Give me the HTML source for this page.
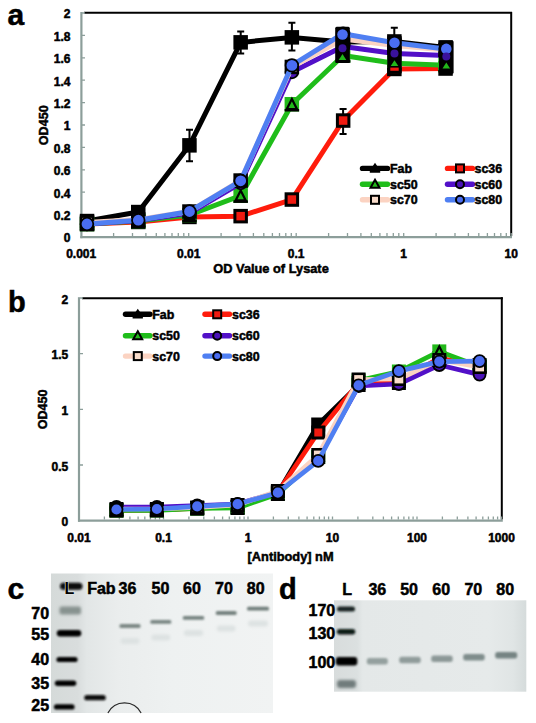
<!DOCTYPE html><html><head><meta charset="utf-8"><title>Figure</title><style>html,body{margin:0;padding:0;background:#fff;width:536px;height:723px;overflow:hidden}svg{display:block}.t{font-family:"Liberation Sans",sans-serif;font-weight:bold;stroke:#000;stroke-width:0.5px}</style></head><body>
<svg width="536" height="723" viewBox="0 0 536 723">
<rect width="536" height="723" fill="#fff"/>
<defs>
<linearGradient id="gc" gradientUnits="userSpaceOnUse" x1="51" y1="0" x2="273" y2="0"><stop offset="0" stop-color="#d5dad9"/><stop offset="0.12" stop-color="#d9dddd"/><stop offset="0.16" stop-color="#e2e6e6"/><stop offset="0.3" stop-color="#eaeded"/><stop offset="0.55" stop-color="#eef1f1"/><stop offset="1" stop-color="#f1f3f3"/></linearGradient>
<linearGradient id="gd" gradientUnits="userSpaceOnUse" x1="334" y1="0" x2="526.5" y2="0"><stop offset="0" stop-color="#d8dcdc"/><stop offset="0.12" stop-color="#dbe0e0"/><stop offset="0.15" stop-color="#e4e8e8"/><stop offset="0.8" stop-color="#e6eaea"/><stop offset="0.93" stop-color="#e0e5e5"/><stop offset="1" stop-color="#d5dbdb"/></linearGradient>
<filter id="blur1" filterUnits="userSpaceOnUse" x="0" y="0" width="536" height="723"><feGaussianBlur stdDeviation="0.9"/></filter>
<filter id="blur2" filterUnits="userSpaceOnUse" x="0" y="0" width="536" height="723"><feGaussianBlur stdDeviation="1.5"/></filter>
<filter id="blur3" filterUnits="userSpaceOnUse" x="0" y="0" width="536" height="723"><feGaussianBlur stdDeviation="1.2"/></filter>
</defs>
<rect x="51" y="573.5" width="222" height="139.5" fill="url(#gc)"/>
<rect x="60.0" y="582.8" width="22.5" height="7" rx="3.5" fill="#080808" opacity="1" filter="url(#blur1)"/><rect x="59.5" y="606.6" width="21.5" height="8" rx="2.0" fill="#87928f" opacity="1" filter="url(#blur2)"/><rect x="56.8" y="630.0" width="24.5" height="6.5" rx="3.2" fill="#000" opacity="1" filter="url(#blur1)"/><rect x="56.4" y="656.9" width="21.2" height="5.2" rx="2.6" fill="#050505" opacity="1" filter="url(#blur1)"/><rect x="54.8" y="680.5" width="21.5" height="5.5" rx="2.8" fill="#050505" opacity="1" filter="url(#blur1)"/><rect x="53.9" y="704.3" width="20.7" height="5.2" rx="2.6" fill="#050505" opacity="1" filter="url(#blur1)"/><rect x="84.2" y="695.1" width="21.6" height="5.2" rx="2.6" fill="#0e1111" opacity="1" filter="url(#blur1)"/><rect x="119.5" y="624.1" width="21.0" height="3.8" rx="1.5" fill="#7b8784" filter="url(#blur1)"/><rect x="120.5" y="638.0" width="19.0" height="6" rx="3" fill="#dde2e2" filter="url(#blur2)"/><rect x="150.3" y="619.9" width="21.0" height="3.8" rx="1.5" fill="#788582" filter="url(#blur1)"/><rect x="151.3" y="634.5" width="19.0" height="6" rx="3" fill="#dde2e2" filter="url(#blur2)"/><rect x="182.8" y="616.0" width="21.4" height="3.8" rx="1.5" fill="#768380" filter="url(#blur1)"/><rect x="183.8" y="630.0" width="19.4" height="6" rx="3" fill="#dde2e2" filter="url(#blur2)"/><rect x="215.8" y="611.1" width="20.8" height="3.8" rx="1.5" fill="#74817e" filter="url(#blur1)"/><rect x="216.8" y="625.5" width="18.8" height="6" rx="3" fill="#dde2e2" filter="url(#blur2)"/><rect x="247.0" y="606.7" width="22.0" height="3.8" rx="1.5" fill="#6e7c79" filter="url(#blur1)"/><rect x="248.0" y="620.5" width="20.0" height="6" rx="3" fill="#dde2e2" filter="url(#blur2)"/>
<path d="M107.9 713 A18.6 18.6 0 0 1 141.1 713" fill="none" stroke="#2a2a2a" stroke-width="1.2"/>
<text x="31.3" y="618.9" font-size="16" class="t">70</text>
<text x="31.3" y="640.1" font-size="16" class="t">55</text>
<text x="31.3" y="664.8" font-size="16" class="t">40</text>
<text x="31.3" y="689.4" font-size="16" class="t">35</text>
<text x="31.3" y="711.4" font-size="16" class="t">25</text>
<text x="64.6" y="593.6" font-size="16" class="t" style="stroke:#e2e6e5;stroke-width:1.2px;paint-order:stroke">L</text>
<text x="87.2" y="593.8" font-size="16" class="t">Fab</text>
<text x="118.6" y="593.8" font-size="16" class="t">36</text>
<text x="151.6" y="593.8" font-size="16" class="t">50</text>
<text x="183" y="593.8" font-size="16" class="t">60</text>
<text x="215" y="593.8" font-size="16" class="t">70</text>
<text x="246.8" y="593.8" font-size="16" class="t">80</text>
<rect x="334" y="600.3" width="192.3" height="91.4" fill="url(#gd)"/>
<rect x="337.0" y="606.5" width="18.0" height="5" rx="2.5" fill="#142220" opacity="1" filter="url(#blur1)"/><rect x="336.8" y="628.9" width="18.5" height="5.5" rx="2.8" fill="#0e1a18" opacity="1" filter="url(#blur1)"/><rect x="335.8" y="657.0" width="21.5" height="8.5" rx="3.0" fill="#000" opacity="1" filter="url(#blur1)"/><rect x="337.0" y="680.0" width="19.0" height="8" rx="3.0" fill="#6f7c7b" opacity="1" filter="url(#blur2)"/><rect x="366.8" y="658.0" width="21.0" height="6.5" rx="2.5" fill="#94a09f" opacity="1" filter="url(#blur3)"/><rect x="399.2" y="656.8" width="21.5" height="6.5" rx="2.5" fill="#909c9b" opacity="1" filter="url(#blur3)"/><rect x="431.2" y="655.5" width="21.5" height="6.5" rx="2.5" fill="#8c9897" opacity="1" filter="url(#blur3)"/><rect x="463.2" y="654.1" width="21.5" height="6.5" rx="2.5" fill="#7f8d8c" opacity="1" filter="url(#blur3)"/><rect x="495.2" y="652.0" width="22.0" height="6.5" rx="2.5" fill="#768483" opacity="1" filter="url(#blur3)"/>
<text x="342.2" y="595.4" font-size="16" class="t">L</text>
<text x="368.4" y="595.4" font-size="16" class="t">36</text>
<text x="400.2" y="595.4" font-size="16" class="t">50</text>
<text x="432.3" y="595.4" font-size="16" class="t">60</text>
<text x="464.4" y="595.4" font-size="16" class="t">70</text>
<text x="496.3" y="595.4" font-size="16" class="t">80</text>
<text x="335.2" y="615.6" font-size="16" text-anchor="end" class="t">170</text>
<text x="335.2" y="639.2" font-size="16" text-anchor="end" class="t">130</text>
<text x="335.2" y="668.2" font-size="16" text-anchor="end" class="t">100</text>
<line x1="84" y1="12.8" x2="512" y2="12.8" stroke="#000" stroke-width="2"/>
<line x1="511.2" y1="12" x2="511.2" y2="236" stroke="#000" stroke-width="2"/>
<line x1="81.4" y1="12" x2="81.4" y2="238.2" stroke="#8c9e9a" stroke-width="2.2"/>
<line x1="80.3" y1="237.1" x2="512" y2="237.1" stroke="#8c9e9a" stroke-width="2.2"/>
<path d="M113.6 236 V233 M132.5 236 V233 M145.9 236 V233 M156.3 236 V233 M164.9 236 V233 M172.0 236 V233 M178.3 236 V233 M183.8 236 V233 M188.7 236 V233 M221.1 236 V233 M240.0 236 V233 M253.4 236 V233 M263.8 236 V233 M272.4 236 V233 M279.5 236 V233 M285.8 236 V233 M291.3 236 V233 M296.2 236 V233 M328.6 236 V233 M347.5 236 V233 M360.9 236 V233 M371.3 236 V233 M379.9 236 V233 M387.0 236 V233 M393.3 236 V233 M398.8 236 V233 M403.7 236 V233 M436.1 236 V233 M455.0 236 V233 M468.4 236 V233 M478.8 236 V233 M487.4 236 V233 M494.5 236 V233 M500.8 236 V233 M506.3 236 V233 M511.2 236 V233 M82 214.6 H85 M82 192.2 H85 M82 169.8 H85 M82 147.4 H85 M82 125.0 H85 M82 102.6 H85 M82 80.2 H85 M82 57.8 H85 M82 35.4 H85 M82 13.0 H85" stroke="#8c9e9a" stroke-width="1.3" fill="none"/>
<text x="70.5" y="242.3" font-size="12" text-anchor="end" class="t">0</text>
<text x="70.5" y="219.9" font-size="12" text-anchor="end" class="t">0.2</text>
<text x="70.5" y="197.5" font-size="12" text-anchor="end" class="t">0.4</text>
<text x="70.5" y="175.1" font-size="12" text-anchor="end" class="t">0.6</text>
<text x="70.5" y="152.7" font-size="12" text-anchor="end" class="t">0.8</text>
<text x="70.5" y="130.3" font-size="12" text-anchor="end" class="t">1</text>
<text x="70.5" y="107.9" font-size="12" text-anchor="end" class="t">1.2</text>
<text x="70.5" y="85.5" font-size="12" text-anchor="end" class="t">1.4</text>
<text x="70.5" y="63.1" font-size="12" text-anchor="end" class="t">1.6</text>
<text x="70.5" y="40.7" font-size="12" text-anchor="end" class="t">1.8</text>
<text x="70.5" y="18.3" font-size="12" text-anchor="end" class="t">2</text>
<text x="81.2" y="257.8" font-size="12" text-anchor="middle" class="t">0.001</text>
<text x="188.7" y="257.8" font-size="12" text-anchor="middle" class="t">0.01</text>
<text x="296.2" y="257.8" font-size="12" text-anchor="middle" class="t">0.1</text>
<text x="403.7" y="257.8" font-size="12" text-anchor="middle" class="t">1</text>
<text x="511.2" y="257.8" font-size="12" text-anchor="middle" class="t">10</text>
<text x="213.3" y="272.6" font-size="12.8" class="t">OD Value of Lysate</text>
<text transform="translate(48.1 125.3) rotate(-90)" font-size="12.6" text-anchor="middle" class="t">OD450</text>
<polyline points="87.0,221.0 138.3,212.0 189.5,145.3 240.7,42.4 291.9,37.4 343.1,42.0 394.3,41.5 445.5,47.5" fill="none" stroke="#000000" stroke-width="5.0" stroke-linejoin="round" stroke-linecap="round"/>
<rect x="79.8" y="213.8" width="14.5" height="14.5" fill="#000"/>
<rect x="131.0" y="204.8" width="14.5" height="14.5" fill="#000"/>
<path d="M189.5 129.8 V161.2 M186.0 129.8 H193.0 M186.0 161.2 H193.0" stroke="#000" stroke-width="2" fill="none"/>
<rect x="182.2" y="138.1" width="14.5" height="14.5" fill="#000"/>
<path d="M240.7 31.6 V53.6 M237.2 31.6 H244.2 M237.2 53.6 H244.2" stroke="#000" stroke-width="2" fill="none"/>
<rect x="233.4" y="35.1" width="14.5" height="14.5" fill="#000"/>
<path d="M291.9 22.8 V50.4 M288.4 22.8 H295.4 M288.4 50.4 H295.4" stroke="#000" stroke-width="2" fill="none"/>
<rect x="284.6" y="30.1" width="14.5" height="14.5" fill="#000"/>
<rect x="335.9" y="34.8" width="14.5" height="14.5" fill="#000"/>
<path d="M394.3 27.7 V57.0 M390.8 27.7 H397.8 M390.8 57.0 H397.8" stroke="#000" stroke-width="2" fill="none"/>
<rect x="387.1" y="34.2" width="14.5" height="14.5" fill="#000"/>
<rect x="438.3" y="40.2" width="14.5" height="14.5" fill="#000"/>
<polyline points="87.0,224.0 138.3,222.0 189.5,217.0 240.7,216.2 291.9,199.6 343.1,120.5 394.3,69.0 445.5,68.5" fill="none" stroke="#ff1c0c" stroke-width="5.0" stroke-linejoin="round" stroke-linecap="round"/>
<rect x="81.3" y="218.2" width="11.5" height="11.5" fill="#f01a10" stroke="#000" stroke-width="3"/>
<rect x="132.5" y="216.2" width="11.5" height="11.5" fill="#f01a10" stroke="#000" stroke-width="3"/>
<rect x="183.7" y="211.2" width="11.5" height="11.5" fill="#f01a10" stroke="#000" stroke-width="3"/>
<rect x="234.9" y="210.4" width="11.5" height="11.5" fill="#f01a10" stroke="#000" stroke-width="3"/>
<rect x="286.1" y="193.8" width="11.5" height="11.5" fill="#f01a10" stroke="#000" stroke-width="3"/>
<path d="M343.1 108.9 V134.1 M339.6 108.9 H346.6 M339.6 134.1 H346.6" stroke="#000" stroke-width="2" fill="none"/>
<rect x="337.4" y="114.8" width="11.5" height="11.5" fill="#f01a10" stroke="#000" stroke-width="3"/>
<rect x="388.6" y="63.2" width="11.5" height="11.5" fill="#f01a10" stroke="#000" stroke-width="3"/>
<rect x="439.8" y="62.8" width="11.5" height="11.5" fill="#f01a10" stroke="#000" stroke-width="3"/>
<polyline points="87.0,224.0 138.3,221.0 189.5,215.0 240.7,195.7 291.9,104.2 343.1,55.5 394.3,63.2 445.5,65.3" fill="none" stroke="#1fbd1a" stroke-width="5.0" stroke-linejoin="round" stroke-linecap="round"/>
<rect x="79.8" y="216.8" width="14.5" height="14.5" fill="#22b81a"/>
<path d="M87.0 218.8 L92.1 228.8 L82.0 228.8 Z" fill="none" stroke="#000" stroke-width="2.2"/>
<rect x="79.8" y="228.8" width="14.5" height="2.5" fill="#000"/>
<rect x="131.0" y="213.8" width="14.5" height="14.5" fill="#22b81a"/>
<path d="M138.3 215.8 L143.3 225.8 L133.2 225.8 Z" fill="none" stroke="#000" stroke-width="2.2"/>
<rect x="131.0" y="225.8" width="14.5" height="2.5" fill="#000"/>
<rect x="182.2" y="207.8" width="14.5" height="14.5" fill="#22b81a"/>
<path d="M189.5 209.8 L194.5 219.8 L184.4 219.8 Z" fill="none" stroke="#000" stroke-width="2.2"/>
<rect x="182.2" y="219.8" width="14.5" height="2.5" fill="#000"/>
<rect x="233.4" y="188.4" width="14.5" height="14.5" fill="#22b81a"/>
<path d="M240.7 190.4 L245.7 200.4 L235.6 200.4 Z" fill="none" stroke="#000" stroke-width="2.2"/>
<rect x="233.4" y="200.4" width="14.5" height="2.5" fill="#000"/>
<rect x="284.6" y="97.0" width="14.5" height="14.5" fill="#22b81a"/>
<path d="M291.9 99.0 L296.9 109.0 L286.8 109.0 Z" fill="none" stroke="#000" stroke-width="2.2"/>
<rect x="284.6" y="109.0" width="14.5" height="2.5" fill="#000"/>
<rect x="335.9" y="48.2" width="14.5" height="14.5" fill="#22b81a"/>
<path d="M343.1 50.2 L348.2 60.2 L338.1 60.2 Z" fill="none" stroke="#000" stroke-width="2.2"/>
<rect x="335.9" y="60.2" width="14.5" height="2.5" fill="#000"/>
<rect x="387.1" y="56.0" width="14.5" height="14.5" fill="#22b81a"/>
<path d="M394.3 58.0 L399.4 68.0 L389.3 68.0 Z" fill="none" stroke="#000" stroke-width="2.2"/>
<rect x="387.1" y="68.0" width="14.5" height="2.5" fill="#000"/>
<rect x="438.3" y="58.0" width="14.5" height="14.5" fill="#22b81a"/>
<path d="M445.5 60.0 L450.6 70.0 L440.5 70.0 Z" fill="none" stroke="#000" stroke-width="2.2"/>
<rect x="438.3" y="70.0" width="14.5" height="2.5" fill="#000"/>
<polyline points="87.0,224.0 138.3,220.5 189.5,213.0 240.7,183.0 291.9,72.0 343.1,46.5 394.3,53.5 445.5,55.5" fill="none" stroke="#5210c8" stroke-width="5.0" stroke-linejoin="round" stroke-linecap="round"/>
<circle cx="87.0" cy="224.0" r="6.3" fill="#4a12b8" stroke="#000" stroke-width="1.8"/>
<circle cx="138.3" cy="220.5" r="6.3" fill="#4a12b8" stroke="#000" stroke-width="1.8"/>
<circle cx="189.5" cy="213.0" r="6.3" fill="#4a12b8" stroke="#000" stroke-width="1.8"/>
<circle cx="240.7" cy="183.0" r="6.3" fill="#4a12b8" stroke="#000" stroke-width="1.8"/>
<circle cx="291.9" cy="72.0" r="6.3" fill="#4a12b8" stroke="#000" stroke-width="1.8"/>
<circle cx="343.1" cy="46.5" r="6.3" fill="#4a12b8" stroke="#000" stroke-width="1.8"/>
<circle cx="394.3" cy="53.5" r="6.3" fill="#4a12b8" stroke="#000" stroke-width="1.8"/>
<circle cx="445.5" cy="55.5" r="6.3" fill="#4a12b8" stroke="#000" stroke-width="1.8"/>
<polyline points="87.0,222.5 138.3,219.5 189.5,211.5 240.7,180.5 291.9,67.0 343.1,39.0 394.3,45.5 445.5,50.0" fill="none" stroke="#fbd3c2" stroke-width="5.0" stroke-linejoin="round" stroke-linecap="round"/>
<rect x="81.1" y="216.6" width="11.9" height="11.9" fill="#f9dccb" stroke="#000" stroke-width="2.6"/>
<rect x="132.3" y="213.6" width="11.9" height="11.9" fill="#f9dccb" stroke="#000" stroke-width="2.6"/>
<rect x="183.5" y="205.6" width="11.9" height="11.9" fill="#f9dccb" stroke="#000" stroke-width="2.6"/>
<rect x="234.7" y="174.6" width="11.9" height="11.9" fill="#f9dccb" stroke="#000" stroke-width="2.6"/>
<rect x="285.9" y="61.0" width="11.9" height="11.9" fill="#f9dccb" stroke="#000" stroke-width="2.6"/>
<rect x="337.2" y="33.0" width="11.9" height="11.9" fill="#f9dccb" stroke="#000" stroke-width="2.6"/>
<rect x="388.4" y="39.5" width="11.9" height="11.9" fill="#f9dccb" stroke="#000" stroke-width="2.6"/>
<rect x="439.6" y="44.0" width="11.9" height="11.9" fill="#f9dccb" stroke="#000" stroke-width="2.6"/>
<polyline points="87.0,224.0 138.3,220.2 189.5,211.5 240.7,180.8 291.9,65.4 343.1,33.7 394.3,42.7 445.5,48.9" fill="none" stroke="#4f7ff2" stroke-width="5.0" stroke-linejoin="round" stroke-linecap="round"/>
<circle cx="87.0" cy="224.0" r="6.3" fill="#4a6df2" stroke="#000" stroke-width="1.8"/>
<circle cx="138.3" cy="220.2" r="6.3" fill="#4a6df2" stroke="#000" stroke-width="1.8"/>
<circle cx="189.5" cy="211.5" r="6.3" fill="#4a6df2" stroke="#000" stroke-width="1.8"/>
<circle cx="240.7" cy="180.8" r="6.3" fill="#4a6df2" stroke="#000" stroke-width="1.8"/>
<circle cx="291.9" cy="65.4" r="6.3" fill="#4a6df2" stroke="#000" stroke-width="1.8"/>
<circle cx="343.1" cy="33.7" r="6.3" fill="#4a6df2" stroke="#000" stroke-width="1.8"/>
<circle cx="394.3" cy="42.7" r="6.3" fill="#4a6df2" stroke="#000" stroke-width="1.8"/>
<circle cx="445.5" cy="48.9" r="6.3" fill="#4a6df2" stroke="#000" stroke-width="1.8"/>
<rect x="335.2" y="26.8" width="14.6" height="36.3" rx="1.5" fill="#000"/>
<circle cx="342.5" cy="34.5" r="5.3" fill="#4a6df2"/>
<circle cx="342.5" cy="48.2" r="4.0" fill="#3a129c"/>
<path d="M342.5 54.1 L346.3 59.9 L338.7 59.9 Z" fill="#22b81a"/>
<rect x="387.3" y="35.6" width="14.4" height="38.1" rx="1.5" fill="#000"/>
<circle cx="394.5" cy="42.7" r="5.3" fill="#4a6df2"/>
<circle cx="394.5" cy="53.5" r="4.0" fill="#3a129c"/>
<path d="M394.5 60.2 L398.3 66.0 L390.7 66.0 Z" fill="#22b81a"/>
<rect x="390.3" y="67.6" width="8.4" height="3.2" fill="#f01a10"/>
<rect x="439.0" y="40.5" width="14.6" height="33.2" rx="1.5" fill="#000"/>
<circle cx="446.3" cy="48.9" r="5.3" fill="#4a6df2"/>
<circle cx="446.3" cy="56.5" r="4.0" fill="#3a129c"/>
<path d="M446.3 62.6 L450.1 68.4 L442.5 68.4 Z" fill="#22b81a"/>
<line x1="362.5" y1="168.4" x2="387.5" y2="168.4" stroke="#000000" stroke-width="5.4" stroke-linecap="round"/>
<path d="M375.0 162.8 L380.2 170.4 L380.2 172.7 L369.8 172.7 L369.8 170.4 Z" fill="#000"/>
<text x="390" y="172.8" font-size="12.4" class="t">Fab</text>
<line x1="447.5" y1="168.4" x2="472.5" y2="168.4" stroke="#ff1c0c" stroke-width="5.4" stroke-linecap="round"/>
<rect x="456.0" y="164.4" width="8" height="8" fill="#f01a10" stroke="#000" stroke-width="2"/>
<text x="474.5" y="172.8" font-size="12.4" class="t">sc36</text>
<line x1="362.5" y1="184.3" x2="387.5" y2="184.3" stroke="#1fbd1a" stroke-width="5.4" stroke-linecap="round"/>
<path d="M375.0 179.8 L379.5 187.8 L370.5 187.8 Z" fill="#22b81a" stroke="#000" stroke-width="2"/>
<text x="390" y="188.7" font-size="12.4" class="t">sc50</text>
<line x1="447.5" y1="184.3" x2="472.5" y2="184.3" stroke="#5210c8" stroke-width="5.4" stroke-linecap="round"/>
<circle cx="460.0" cy="184.3" r="4" fill="#4a12b8" stroke="#000" stroke-width="2"/>
<text x="474.5" y="188.7" font-size="12.4" class="t">sc60</text>
<line x1="362.5" y1="199.8" x2="387.5" y2="199.8" stroke="#fbd3c2" stroke-width="5.4" stroke-linecap="round"/>
<rect x="371.0" y="195.8" width="8" height="8" fill="#f9dccb" stroke="#000" stroke-width="2"/>
<text x="390" y="204.2" font-size="12.4" class="t">sc70</text>
<line x1="447.5" y1="199.8" x2="472.5" y2="199.8" stroke="#4f7ff2" stroke-width="5.4" stroke-linecap="round"/>
<circle cx="460.0" cy="199.8" r="4" fill="#4a6df2" stroke="#000" stroke-width="2"/>
<text x="474.5" y="204.2" font-size="12.4" class="t">sc80</text>
<line x1="82" y1="298.2" x2="502.8" y2="298.2" stroke="#000" stroke-width="2"/>
<line x1="501.8" y1="297.2" x2="501.8" y2="519.5" stroke="#000" stroke-width="2"/>
<line x1="79" y1="297.2" x2="79" y2="521.7" stroke="#8c9e9a" stroke-width="2.2"/>
<line x1="78" y1="520.6" x2="502.8" y2="520.6" stroke="#8c9e9a" stroke-width="2.2"/>
<path d="M104.4 519.5 V516.5 M119.3 519.5 V516.5 M129.9 519.5 V516.5 M138.1 519.5 V516.5 M144.8 519.5 V516.5 M150.4 519.5 V516.5 M155.3 519.5 V516.5 M159.6 519.5 V516.5 M163.5 519.5 V516.5 M188.9 519.5 V516.5 M203.8 519.5 V516.5 M214.4 519.5 V516.5 M222.6 519.5 V516.5 M229.3 519.5 V516.5 M234.9 519.5 V516.5 M239.8 519.5 V516.5 M244.1 519.5 V516.5 M248.0 519.5 V516.5 M273.4 519.5 V516.5 M288.3 519.5 V516.5 M298.9 519.5 V516.5 M307.1 519.5 V516.5 M313.8 519.5 V516.5 M319.4 519.5 V516.5 M324.3 519.5 V516.5 M328.6 519.5 V516.5 M332.5 519.5 V516.5 M357.9 519.5 V516.5 M372.8 519.5 V516.5 M383.4 519.5 V516.5 M391.6 519.5 V516.5 M398.3 519.5 V516.5 M403.9 519.5 V516.5 M408.8 519.5 V516.5 M413.1 519.5 V516.5 M417.0 519.5 V516.5 M442.4 519.5 V516.5 M457.3 519.5 V516.5 M467.9 519.5 V516.5 M476.1 519.5 V516.5 M482.8 519.5 V516.5 M488.4 519.5 V516.5 M493.3 519.5 V516.5 M497.6 519.5 V516.5 M501.5 519.5 V516.5 M80 465.0 H83 M80 409.3 H83 M80 353.7 H83 M80 298.0 H83" stroke="#8c9e9a" stroke-width="1.3" fill="none"/>
<text x="68.3" y="526.2" font-size="12" text-anchor="end" class="t">0</text>
<text x="68.3" y="470.6" font-size="12" text-anchor="end" class="t">0.5</text>
<text x="68.3" y="414.9" font-size="12" text-anchor="end" class="t">1</text>
<text x="68.3" y="359.3" font-size="12" text-anchor="end" class="t">1.5</text>
<text x="68.3" y="303.6" font-size="12" text-anchor="end" class="t">2</text>
<text x="79.0" y="541.8" font-size="12" text-anchor="middle" class="t">0.01</text>
<text x="163.5" y="541.8" font-size="12" text-anchor="middle" class="t">0.1</text>
<text x="248.0" y="541.8" font-size="12" text-anchor="middle" class="t">1</text>
<text x="332.5" y="541.8" font-size="12" text-anchor="middle" class="t">10</text>
<text x="417.0" y="541.8" font-size="12" text-anchor="middle" class="t">100</text>
<text x="501.5" y="541.8" font-size="12" text-anchor="middle" class="t">1000</text>
<text x="247.6" y="560.8" font-size="12.8" class="t">[Antibody] nM</text>
<text transform="translate(47.4 409.4) rotate(-90)" font-size="12.6" text-anchor="middle" class="t">OD450</text>
<polyline points="116.5,510.0 156.9,510.0 197.2,508.0 237.6,507.0 277.9,493.0 318.2,424.5 358.6,385.0 398.9,383.0 439.3,360.0 479.6,365.0" fill="none" stroke="#000000" stroke-width="4.7" stroke-linejoin="round" stroke-linecap="round"/>
<rect x="109.5" y="503.0" width="14" height="14" fill="#000"/>
<rect x="149.9" y="503.0" width="14" height="14" fill="#000"/>
<rect x="190.2" y="501.0" width="14" height="14" fill="#000"/>
<rect x="230.6" y="500.0" width="14" height="14" fill="#000"/>
<rect x="270.9" y="486.0" width="14" height="14" fill="#000"/>
<rect x="311.2" y="417.5" width="14" height="14" fill="#000"/>
<rect x="351.6" y="378.0" width="14" height="14" fill="#000"/>
<rect x="391.9" y="376.0" width="14" height="14" fill="#000"/>
<rect x="432.3" y="353.0" width="14" height="14" fill="#000"/>
<rect x="472.6" y="358.0" width="14" height="14" fill="#000"/>
<polyline points="116.5,510.5 156.9,510.0 197.2,508.5 237.6,506.5 277.9,492.0 318.2,432.5 358.6,383.0 398.9,381.0 439.3,358.0 479.6,366.0" fill="none" stroke="#ff1c0c" stroke-width="4.7" stroke-linejoin="round" stroke-linecap="round"/>
<rect x="111.0" y="505.0" width="11" height="11" fill="#f01a10" stroke="#000" stroke-width="3"/>
<rect x="151.4" y="504.5" width="11" height="11" fill="#f01a10" stroke="#000" stroke-width="3"/>
<rect x="191.7" y="503.0" width="11" height="11" fill="#f01a10" stroke="#000" stroke-width="3"/>
<rect x="232.1" y="501.0" width="11" height="11" fill="#f01a10" stroke="#000" stroke-width="3"/>
<rect x="272.4" y="486.5" width="11" height="11" fill="#f01a10" stroke="#000" stroke-width="3"/>
<rect x="312.8" y="427.0" width="11" height="11" fill="#f01a10" stroke="#000" stroke-width="3"/>
<rect x="353.1" y="377.5" width="11" height="11" fill="#f01a10" stroke="#000" stroke-width="3"/>
<rect x="393.4" y="375.5" width="11" height="11" fill="#f01a10" stroke="#000" stroke-width="3"/>
<rect x="433.8" y="352.5" width="11" height="11" fill="#f01a10" stroke="#000" stroke-width="3"/>
<rect x="474.1" y="360.5" width="11" height="11" fill="#f01a10" stroke="#000" stroke-width="3"/>
<polyline points="116.5,510.5 156.9,510.5 197.2,508.5 237.6,508.0 277.9,494.0 318.2,457.0 358.6,380.5 398.9,371.5 439.3,351.4 479.6,366.5" fill="none" stroke="#1fbd1a" stroke-width="4.7" stroke-linejoin="round" stroke-linecap="round"/>
<rect x="109.5" y="503.5" width="14" height="14" fill="#22b81a"/>
<path d="M116.5 505.5 L121.3 515.0 L111.8 515.0 Z" fill="none" stroke="#000" stroke-width="2.2"/>
<rect x="109.5" y="515.0" width="14" height="2.5" fill="#000"/>
<rect x="149.9" y="503.5" width="14" height="14" fill="#22b81a"/>
<path d="M156.9 505.5 L161.7 515.0 L152.1 515.0 Z" fill="none" stroke="#000" stroke-width="2.2"/>
<rect x="149.9" y="515.0" width="14" height="2.5" fill="#000"/>
<rect x="190.2" y="501.5" width="14" height="14" fill="#22b81a"/>
<path d="M197.2 503.5 L202.0 513.0 L192.4 513.0 Z" fill="none" stroke="#000" stroke-width="2.2"/>
<rect x="190.2" y="513.0" width="14" height="2.5" fill="#000"/>
<rect x="230.6" y="501.0" width="14" height="14" fill="#22b81a"/>
<path d="M237.6 503.0 L242.4 512.5 L232.8 512.5 Z" fill="none" stroke="#000" stroke-width="2.2"/>
<rect x="230.6" y="512.5" width="14" height="2.5" fill="#000"/>
<rect x="270.9" y="487.0" width="14" height="14" fill="#22b81a"/>
<path d="M277.9 489.0 L282.7 498.5 L273.1 498.5 Z" fill="none" stroke="#000" stroke-width="2.2"/>
<rect x="270.9" y="498.5" width="14" height="2.5" fill="#000"/>
<rect x="311.2" y="450.0" width="14" height="14" fill="#22b81a"/>
<path d="M318.2 452.0 L323.1 461.5 L313.4 461.5 Z" fill="none" stroke="#000" stroke-width="2.2"/>
<rect x="311.2" y="461.5" width="14" height="2.5" fill="#000"/>
<rect x="351.6" y="373.5" width="14" height="14" fill="#22b81a"/>
<path d="M358.6 375.5 L363.4 385.0 L353.8 385.0 Z" fill="none" stroke="#000" stroke-width="2.2"/>
<rect x="351.6" y="385.0" width="14" height="2.5" fill="#000"/>
<rect x="391.9" y="364.5" width="14" height="14" fill="#22b81a"/>
<path d="M398.9 366.5 L403.7 376.0 L394.1 376.0 Z" fill="none" stroke="#000" stroke-width="2.2"/>
<rect x="391.9" y="376.0" width="14" height="2.5" fill="#000"/>
<rect x="432.3" y="344.4" width="14" height="14" fill="#22b81a"/>
<path d="M439.3 346.4 L444.1 355.9 L434.5 355.9 Z" fill="none" stroke="#000" stroke-width="2.2"/>
<rect x="432.3" y="355.9" width="14" height="2.5" fill="#000"/>
<rect x="472.6" y="359.5" width="14" height="14" fill="#22b81a"/>
<path d="M479.6 361.5 L484.4 371.0 L474.8 371.0 Z" fill="none" stroke="#000" stroke-width="2.2"/>
<rect x="472.6" y="371.0" width="14" height="2.5" fill="#000"/>
<polyline points="116.5,507.0 156.9,507.0 197.2,505.5 237.6,504.0 277.9,492.0 318.2,458.0 358.6,386.0 398.9,384.0 439.3,365.0 479.6,374.6" fill="none" stroke="#5210c8" stroke-width="4.7" stroke-linejoin="round" stroke-linecap="round"/>
<circle cx="116.5" cy="507.0" r="6" fill="#4a12b8" stroke="#000" stroke-width="1.8"/>
<circle cx="156.9" cy="507.0" r="6" fill="#4a12b8" stroke="#000" stroke-width="1.8"/>
<circle cx="197.2" cy="505.5" r="6" fill="#4a12b8" stroke="#000" stroke-width="1.8"/>
<circle cx="237.6" cy="504.0" r="6" fill="#4a12b8" stroke="#000" stroke-width="1.8"/>
<circle cx="277.9" cy="492.0" r="6" fill="#4a12b8" stroke="#000" stroke-width="1.8"/>
<circle cx="318.2" cy="458.0" r="6" fill="#4a12b8" stroke="#000" stroke-width="1.8"/>
<circle cx="358.6" cy="386.0" r="6" fill="#4a12b8" stroke="#000" stroke-width="1.8"/>
<circle cx="398.9" cy="384.0" r="6" fill="#4a12b8" stroke="#000" stroke-width="1.8"/>
<circle cx="439.3" cy="365.0" r="6" fill="#4a12b8" stroke="#000" stroke-width="1.8"/>
<circle cx="479.6" cy="374.6" r="6" fill="#4a12b8" stroke="#000" stroke-width="1.8"/>
<polyline points="116.5,509.0 156.9,509.0 197.2,507.5 237.6,505.0 277.9,491.0 318.2,455.0 358.6,379.5 398.9,379.0 439.3,360.0 479.6,367.0" fill="none" stroke="#fbd3c2" stroke-width="4.7" stroke-linejoin="round" stroke-linecap="round"/>
<rect x="110.8" y="503.3" width="11.4" height="11.4" fill="#f9dccb" stroke="#000" stroke-width="2.6"/>
<rect x="151.2" y="503.3" width="11.4" height="11.4" fill="#f9dccb" stroke="#000" stroke-width="2.6"/>
<rect x="191.5" y="501.8" width="11.4" height="11.4" fill="#f9dccb" stroke="#000" stroke-width="2.6"/>
<rect x="231.9" y="499.3" width="11.4" height="11.4" fill="#f9dccb" stroke="#000" stroke-width="2.6"/>
<rect x="272.2" y="485.3" width="11.4" height="11.4" fill="#f9dccb" stroke="#000" stroke-width="2.6"/>
<rect x="312.6" y="449.3" width="11.4" height="11.4" fill="#f9dccb" stroke="#000" stroke-width="2.6"/>
<rect x="352.9" y="373.8" width="11.4" height="11.4" fill="#f9dccb" stroke="#000" stroke-width="2.6"/>
<rect x="393.2" y="373.3" width="11.4" height="11.4" fill="#f9dccb" stroke="#000" stroke-width="2.6"/>
<rect x="433.6" y="354.3" width="11.4" height="11.4" fill="#f9dccb" stroke="#000" stroke-width="2.6"/>
<rect x="473.9" y="361.3" width="11.4" height="11.4" fill="#f9dccb" stroke="#000" stroke-width="2.6"/>
<polyline points="116.5,509.5 156.9,509.0 197.2,506.3 237.6,504.1 277.9,492.7 318.2,460.9 358.6,385.3 398.9,371.1 439.3,361.6 479.6,361.1" fill="none" stroke="#4f7ff2" stroke-width="4.7" stroke-linejoin="round" stroke-linecap="round"/>
<circle cx="116.5" cy="509.5" r="6" fill="#4a6df2" stroke="#000" stroke-width="1.8"/>
<circle cx="156.9" cy="509.0" r="6" fill="#4a6df2" stroke="#000" stroke-width="1.8"/>
<circle cx="197.2" cy="506.3" r="6" fill="#4a6df2" stroke="#000" stroke-width="1.8"/>
<circle cx="237.6" cy="504.1" r="6" fill="#4a6df2" stroke="#000" stroke-width="1.8"/>
<circle cx="277.9" cy="492.7" r="6" fill="#4a6df2" stroke="#000" stroke-width="1.8"/>
<circle cx="318.2" cy="460.9" r="6" fill="#4a6df2" stroke="#000" stroke-width="1.8"/>
<circle cx="358.6" cy="385.3" r="6" fill="#4a6df2" stroke="#000" stroke-width="1.8"/>
<circle cx="398.9" cy="371.1" r="6" fill="#4a6df2" stroke="#000" stroke-width="1.8"/>
<circle cx="439.3" cy="361.6" r="6" fill="#4a6df2" stroke="#000" stroke-width="1.8"/>
<circle cx="479.6" cy="361.1" r="6" fill="#4a6df2" stroke="#000" stroke-width="1.8"/>
<line x1="125.5" y1="314.3" x2="150" y2="314.3" stroke="#000000" stroke-width="5.4" stroke-linecap="round"/>
<path d="M137.8 308.7 L142.9 316.3 L142.9 318.6 L132.6 318.6 L132.6 316.3 Z" fill="#000"/>
<text x="152.3" y="318.7" font-size="12.4" class="t">Fab</text>
<line x1="205" y1="314.3" x2="229.5" y2="314.3" stroke="#ff1c0c" stroke-width="5.4" stroke-linecap="round"/>
<rect x="213.2" y="310.3" width="8" height="8" fill="#f01a10" stroke="#000" stroke-width="2"/>
<text x="232" y="318.7" font-size="12.4" class="t">sc36</text>
<line x1="125.5" y1="335.8" x2="150" y2="335.8" stroke="#1fbd1a" stroke-width="5.4" stroke-linecap="round"/>
<path d="M137.8 331.3 L142.2 339.3 L133.2 339.3 Z" fill="#22b81a" stroke="#000" stroke-width="2"/>
<text x="152.3" y="340.2" font-size="12.4" class="t">sc50</text>
<line x1="205" y1="335.8" x2="229.5" y2="335.8" stroke="#5210c8" stroke-width="5.4" stroke-linecap="round"/>
<circle cx="217.2" cy="335.8" r="4" fill="#4a12b8" stroke="#000" stroke-width="2"/>
<text x="232" y="340.2" font-size="12.4" class="t">sc60</text>
<line x1="125.5" y1="356.1" x2="150" y2="356.1" stroke="#fbd3c2" stroke-width="5.4" stroke-linecap="round"/>
<rect x="133.8" y="352.1" width="8" height="8" fill="#f9dccb" stroke="#000" stroke-width="2"/>
<text x="152.3" y="360.5" font-size="12.4" class="t">sc70</text>
<line x1="205" y1="356.1" x2="229.5" y2="356.1" stroke="#4f7ff2" stroke-width="5.4" stroke-linecap="round"/>
<circle cx="217.2" cy="356.1" r="4" fill="#4a6df2" stroke="#000" stroke-width="2"/>
<text x="232" y="360.5" font-size="12.4" class="t">sc80</text>
<text x="7.5" y="24.8" font-size="30" class="t">a</text>
<text x="8" y="311.7" font-size="29" class="t">b</text>
<text x="7.5" y="598.9" font-size="30" class="t">c</text>
<text x="279" y="598.6" font-size="29" class="t">d</text>
</svg></body></html>
